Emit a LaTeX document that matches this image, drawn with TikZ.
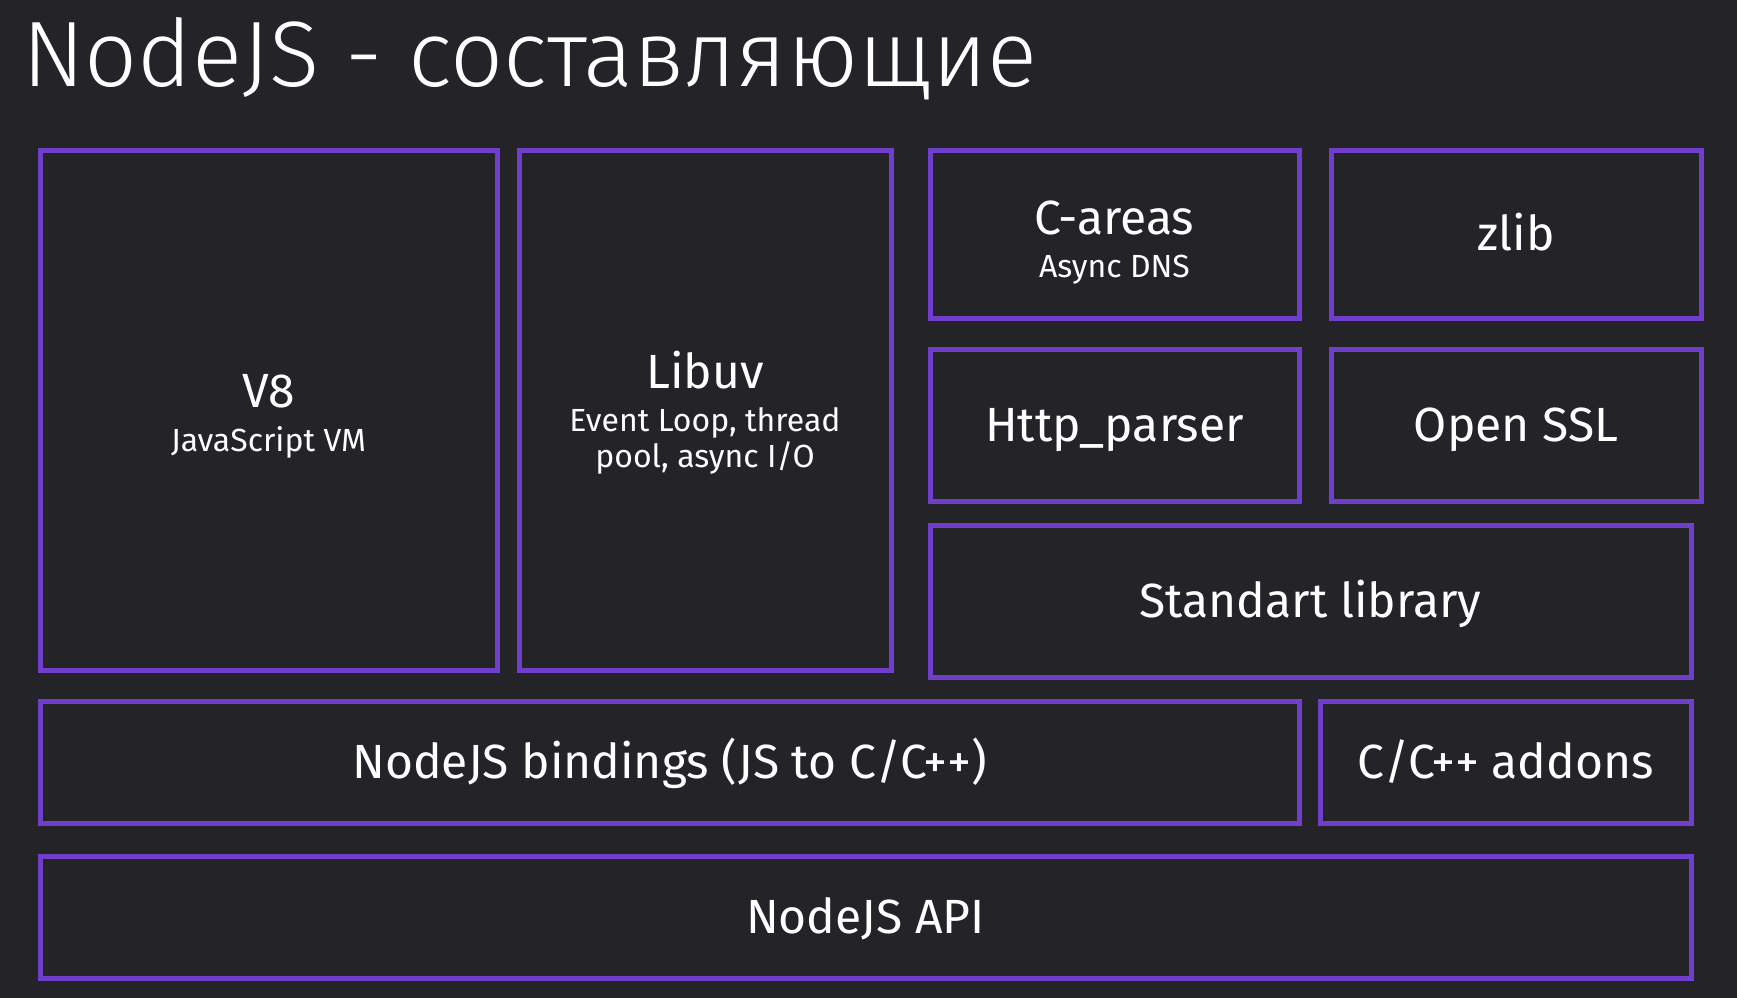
\documentclass[tikz,border=0pt]{standalone}
\usepackage{fontspec}
\setmainfont{Fira Sans}
\IfFontExistsTF{Fira Sans Light}{\newfontfamily\titlefont{Fira Sans Light}}{\IfFontExistsTF{FiraSans-Light.otf}{\newfontfamily\titlefont{FiraSans-Light.otf}}{\newfontfamily\titlefont{Fira Sans}}}
\usepackage{tikz}
\usetikzlibrary{positioning}
\definecolor{bg}{HTML}{232328}
\definecolor{boxline}{HTML}{6F3FCB}
\newcommand{\subtxt}[1]{{\fontsize{32}{36}\selectfont #1}}
\newcommand{\headstrut}[1]{\rule{0pt}{#1}}
\tikzstyle{block} = [rectangle, draw=boxline, line width=5pt, inner sep=0pt, outer sep=0pt, align=center, text=white, font=\fontsize{48}{36}\selectfont]
\tikzstyle{oneliner} = [block, text height=33pt, text depth=0pt]
\tikzstyle{title} = [anchor=base west, inner sep=0pt, text=white, font=\titlefont\fontsize{93}{100}\selectfont]

\begin{document}
\begin{tikzpicture}[x=1pt, y=-1pt, node distance = 22pt]
	\fill[bg] (0,0) rectangle (1737,998);
	\useasboundingbox (0,0) rectangle (1737,998);
	\node (Title) [title] at (22,86) {NodeJS - составляющие};
	\node (VEight) [block, minimum width=457pt, minimum height=520pt] at (268.5,410) {\headstrut{45pt}V8\\[8pt]\subtxt{JavaScript VM}};
	\node (Libuv) [block, minimum width=372pt, minimum height=520pt, right = 22pt of VEight] {\headstrut{42pt}Libuv\\[7pt]\subtxt{Event Loop, thread}\\\subtxt{pool, async I/O}};
	\node (CAreas) [block, minimum width=369pt, minimum height=168pt, below right = 0pt and 39pt of Libuv.north east] {\headstrut{50pt}C-areas\\[7pt]\subtxt{Async DNS}};
	\node (Zlib) [oneliner, minimum width=370pt, minimum height=168pt, right = 32pt of CAreas] {zlib};
	\node (HttpParser) [oneliner, minimum width=369pt, minimum height=152pt, below = 31pt of CAreas] {Http\_parser};
	\node (OpenSSL) [oneliner, minimum width=370pt, minimum height=152pt, below = 31pt of Zlib] {Open SSL};
	\node (StdLib) [oneliner, minimum width=761pt, minimum height=152pt, below right = 24pt and 0pt of HttpParser.south west] {Standart library};
	\node (Bindings) [oneliner, minimum width=1259pt, minimum height=122pt, below right = 31pt and 0pt of VEight.south west] {NodeJS bindings (JS to C/C++)};
	\node (Addons) [oneliner, minimum width=371pt, minimum height=122pt, right = 21pt of Bindings] {C/C++ addons};
	\node (API) [oneliner, minimum width=1651pt, minimum height=122pt, below right = 33pt and 0pt of Bindings.south west] {NodeJS API};
\end{tikzpicture}
\end{document}
